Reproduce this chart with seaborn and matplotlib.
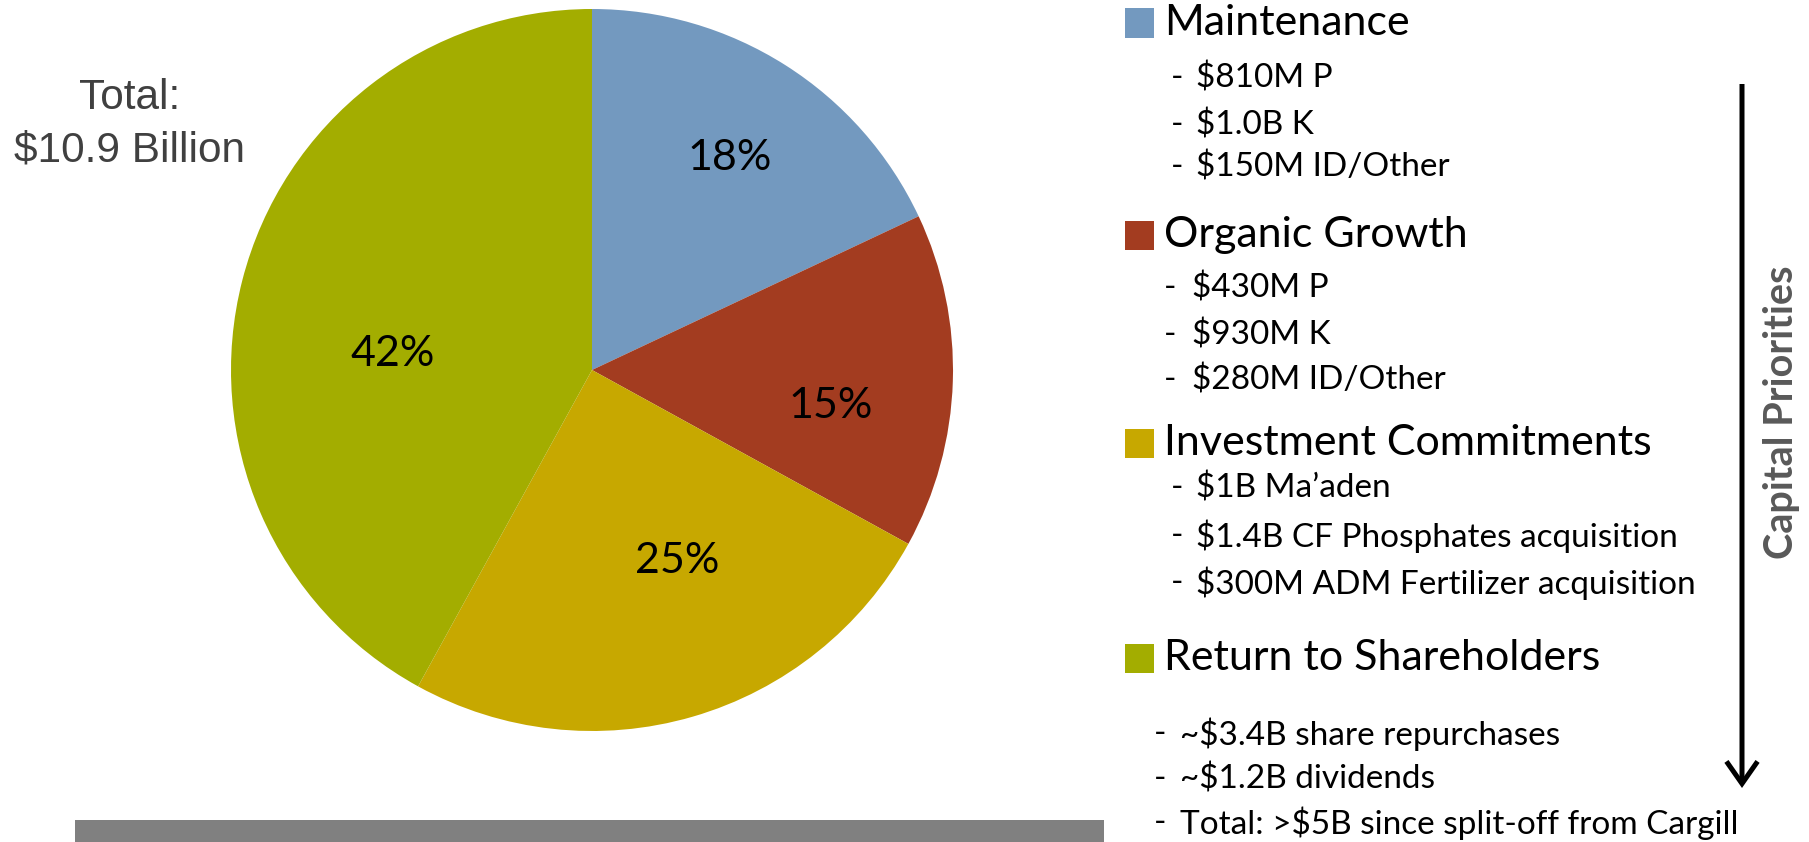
import matplotlib
matplotlib.use("Agg")
import matplotlib.pyplot as plt
import seaborn as sns
import numpy as np
from matplotlib.patches import Rectangle, FancyArrowPatch

# ---- data ----
categories = ["Maintenance", "Organic Growth", "Investment Commitments", "Return to Shareholders"]
shares = [18, 15, 25, 42]
colors = ["#7399BF", "#A33C20", "#C7A800", "#A3AD00"]
details = [
    ["$810M P", "$1.0B K", "$150M ID/Other"],
    ["$430M P", "$930M K", "$280M ID/Other"],
    ["$1B Ma\u2019aden", "$1.4B CF Phosphates acquisition", "$300M ADM Fertilizer acquisition"],
    ["~$3.4B share repurchases", "~$1.2B dividends", "Total: >$5B since split-off from Cargill"],
]
total_label = ["Total:", "$10.9 Billion"]
side_label = "Capital Priorities"

sns.set_theme(style="white")
plt.rcParams["font.family"] = ["Lato", "DejaVu Sans"]

W, H = 1809, 842
fig = plt.figure(figsize=(W / 100, H / 100), dpi=100)
fig.patch.set_facecolor("white")

def fx(x):
    return x / W

def fy(y):
    return 1 - y / H

# ---- pie ----
cx, cy, r = 592, 370, 361
ax = fig.add_axes([fx(cx - r), fy(cy + r), 2 * r / W, 2 * r / H])
palette = sns.color_palette(colors)
wedges, _ = ax.pie(shares, colors=palette, startangle=90, counterclock=False,
                   radius=1, wedgeprops=dict(linewidth=0))
ax.set_xlim(-1, 1)
ax.set_ylim(-1, 1)
ax.set_aspect("equal")
ax.axis("off")

# label placement style (PowerPoint "best fit"-like): radial distance and angular shift
label_dist = [0.70, 0.67, 0.58, 0.553]
label_shift = [-0.7, -6.8, 7.7, 9.8]
for w, v, d, s in zip(wedges, shares, label_dist, label_shift):
    ang = np.deg2rad((w.theta1 + w.theta2) / 2 + s)
    ax.text(d * np.cos(ang), d * np.sin(ang), f"{v}%", ha="center", va="center",
            fontsize=31, color="black")

# ---- total label ----
fig.text(fx(130), fy(98), total_label[0], ha="center", va="center", fontsize=30.5,
         color="#404040", family=["Liberation Sans", "DejaVu Sans"])
fig.text(fx(130), fy(150), total_label[1], ha="center", va="center", fontsize=30.5,
         color="#404040", family=["Liberation Sans", "DejaVu Sans"])

# ---- legend ----
header_y = [23, 235, 443, 658]
item_y = [[78, 125, 167], [288, 335, 380], [488, 536, 583], [734, 779, 823]]
dash_x = [1171, 1164, 1171, 1154]
text_x = [1196, 1192, 1196, 1180]
sq = 29
for i, cat in enumerate(categories):
    fig.add_artist(Rectangle((fx(1125), fy(header_y[i] + sq / 2)), sq / W, sq / H,
                             transform=fig.transFigure, facecolor=palette[i], edgecolor="none"))
    fig.text(fx(1164), fy(header_y[i]), cat, ha="left", va="center", fontsize=31, color="black")
    for j, item in enumerate(details[i]):
        fig.text(fx(dash_x[i]), fy(item_y[i][j]), "-", ha="left", va="center", fontsize=24, color="black")
        fig.text(fx(text_x[i]), fy(item_y[i][j]), item, ha="left", va="center", fontsize=24, color="black")

# ---- arrow ----
arrow = FancyArrowPatch((fx(1742), fy(84)), (fx(1742), fy(788)), transform=fig.transFigure,
                        arrowstyle="->,head_length=1.0,head_width=0.7", mutation_scale=16,
                        linewidth=3.6, color="black", shrinkA=0, shrinkB=0,
                        joinstyle="miter", capstyle="butt")
fig.add_artist(arrow)
fig.text(fx(1782), fy(412), side_label, rotation=90, ha="center", va="center", fontsize=28.5,
         fontweight="bold", color="#595959")

# ---- grey bar ----
fig.add_artist(Rectangle((fx(75), fy(842)), (1104 - 75) / W, 22 / H, transform=fig.transFigure,
                         facecolor="#808080", edgecolor="none"))

fig.savefig("out.png", dpi=100, facecolor="white")
